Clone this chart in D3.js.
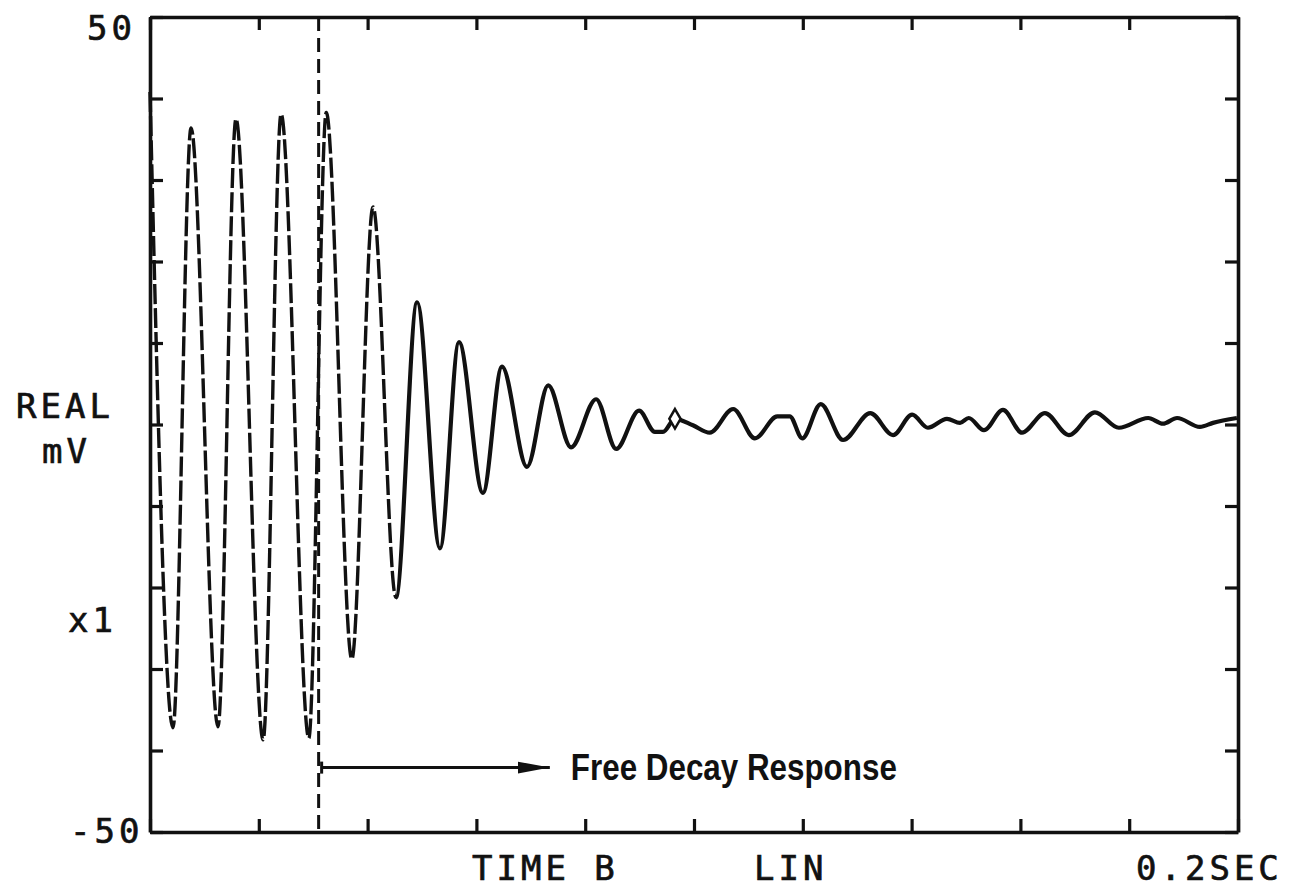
<!DOCTYPE html>
<html>
<head>
<meta charset="utf-8">
<script src="https://cdn.jsdelivr.net/npm/d3@7"></script>
<style>
  html, body { margin: 0; padding: 0; background: #fff; }
  svg { display: block; }
  .plotter { font-family: "DejaVu Sans Mono", monospace; font-size: 34px; letter-spacing: 4px; fill: #111; stroke: #111; stroke-width: 0.7px; }
  .note { font-family: "Liberation Sans", Arial, sans-serif; font-weight: bold; font-size: 37px; fill: #111; }
</style>
</head>
<body>
<svg id="chart"></svg>
<script>
// forced part of the record (plotted broken in the original)
var forcedTime = [0, 0.00423, 0.00754, 0.0125, 0.0158, 0.0208, 0.0241, 0.0292, 0.0324, 0.0371, 0.0410];
var forcedMv = [40.8, -37.2, 36.4, -37.1, 37.5, -38.7, 38.1, -38.5, 38.3, -28.8, 26.7];

// free decay part
var decayTime = [0.0452, 0.0491, 0.0533, 0.0568, 0.0612, 0.0647, 0.0693, 0.0732, 0.0774, 0.0820,
  0.0857, 0.0899, 0.0928, 0.0943, 0.0965, 0.0998, 0.1029, 0.1072, 0.1112, 0.1153,
  0.1176, 0.1199, 0.1233, 0.1274, 0.1324, 0.1366, 0.1401, 0.1430, 0.1465, 0.1489,
  0.1505, 0.1533, 0.1568, 0.1603, 0.1645, 0.1689, 0.1737, 0.1781, 0.1835, 0.1862,
  0.1888, 0.1930, 0.1954, 0.1998];
var decayMv = [-21.2, 15.0, -15.2, 10.1, -8.4, 7.1, -5.2, 4.8, -2.8, 3.1,
  -3.0, 1.7, -0.9, -0.9, 0.7, -0.1, -1.0, 1.9, -1.7, 1.0,
  1.0, -1.7, 2.5, -1.9, 1.4, -1.3, 1.2, -0.4, 0.7, 0.2,
  0.8, -0.7, 1.8, -1.0, 1.4, -1.3, 1.5, -0.4, 0.8, 0.1,
  0.8, -0.3, 0.2, 0.8];

var markerTime = [0.0965];
var markerMv = [0.7];

var yRange = [-50, 50];
var yTickLabels = ["-50", "50"];
var xTicks = [0, 0.02, 0.04, 0.06, 0.08, 0.1, 0.12, 0.14, 0.16, 0.18, 0.2];
var yTicks = [-50, -40, -30, -20, -10, 0, 10, 20, 30, 40, 50];
var bottomLabels = ["TIME B", "LIN", "0.2SEC"];
var sideLabels = ["REAL", "mV", "x1"];

var dividerTime = 0.031;
var brokenUntil = 0.0452;
var arrowEndTime = 0.0735;
var arrowMv = -42.1;
var noteText = "Free Decay Response";

var margin = { top: 17, right: 57, bottom: 61, left: 150 };
var totalW = 1295, totalH = 893;
var width = totalW - margin.left - margin.right;
var height = totalH - margin.top - margin.bottom;

var svg = d3.select("#chart").attr("width", totalW).attr("height", totalH);
var defs = svg.append("defs");
var g = svg.append("g").attr("transform", "translate(" + margin.left + "," + margin.top + ")");

var x = d3.scaleLinear().domain([0, 0.2]).range([0, width]);
var y = d3.scaleLinear().domain(yRange).range([height, 0]);

// frame with inward ticks on all four sides
var tickLen = -13;
var axes = [
  { ax: d3.axisBottom(x).tickValues(xTicks), tr: "translate(0," + height + ")" },
  { ax: d3.axisTop(x).tickValues(xTicks), tr: "translate(0,0)" },
  { ax: d3.axisLeft(y).tickValues(yTicks), tr: "translate(0,0)" },
  { ax: d3.axisRight(y).tickValues(yTicks), tr: "translate(" + width + ",0)" }
];
axes.forEach(function(a) {
  var sel = g.append("g").attr("transform", a.tr)
    .call(a.ax.tickSizeInner(tickLen).tickSizeOuter(0).tickFormat(""));
  sel.select(".domain").attr("stroke", "#111").attr("stroke-width", 3.6);
  sel.selectAll(".tick line").attr("stroke", "#111").attr("stroke-width", 3.2);
});

var line = d3.line()
  .x(function(d) { return x(d.t); })
  .y(function(d) { return y(d.v); })
  .curve(d3.curveMonotoneX);

var trace = forcedTime.map(function(t, i) { return { t: t, v: forcedMv[i] }; })
  .concat(decayTime.map(function(t, i) { return { t: t, v: decayMv[i] }; }));

// one curve, split by clip: broken strokes on the steep start, solid after
defs.append("clipPath").attr("id", "clipBroken").append("rect")
  .attr("x", -10).attr("y", -20).attr("width", x(brokenUntil) + 10).attr("height", height + 40);
defs.append("clipPath").attr("id", "clipSolid").append("rect")
  .attr("x", x(brokenUntil)).attr("y", -20).attr("width", width - x(brokenUntil)).attr("height", height + 40);

g.append("path").datum(trace)
  .attr("d", line)
  .attr("clip-path", "url(#clipBroken)")
  .attr("fill", "none")
  .attr("stroke", "#111")
  .attr("stroke-width", 3.4)
  .attr("stroke-dasharray", "20 4");

g.append("path").datum(trace)
  .attr("d", line)
  .attr("clip-path", "url(#clipSolid)")
  .attr("fill", "none")
  .attr("stroke", "#111")
  .attr("stroke-width", 4.2)
  .attr("stroke-linejoin", "round");

// small diamond marker on the trace
g.selectAll("path.marker").data(markerTime).enter().append("path")
  .attr("class", "marker")
  .attr("d", d3.symbol().type(d3.symbolDiamond).size(110))
  .attr("transform", function(d, i) { return "translate(" + x(d) + "," + y(markerMv[i]) + ")"; })
  .attr("fill", "#fff")
  .attr("stroke", "#111")
  .attr("stroke-width", 2.5);

// dashed divider between forced and free response
g.append("line")
  .attr("x1", x(dividerTime)).attr("x2", x(dividerTime))
  .attr("y1", y(yRange[1])).attr("y2", y(yRange[0]))
  .attr("stroke", "#111")
  .attr("stroke-width", 3)
  .attr("stroke-dasharray", "14 7");

// arrow + note
defs.append("marker")
  .attr("id", "head")
  .attr("viewBox", "0 0 32 13")
  .attr("refX", 32).attr("refY", 6.5)
  .attr("markerWidth", 32).attr("markerHeight", 13)
  .attr("markerUnits", "userSpaceOnUse")
  .attr("orient", "auto")
  .append("path").attr("d", "M0,0.5 L32,6.5 L0,12.5 Z").attr("fill", "#111");

g.append("line")
  .attr("x1", x(dividerTime) + 3).attr("x2", x(arrowEndTime))
  .attr("y1", y(arrowMv)).attr("y2", y(arrowMv))
  .attr("stroke", "#111")
  .attr("stroke-width", 3)
  .attr("marker-end", "url(#head)");

g.append("line")
  .attr("x1", x(dividerTime) + 3).attr("x2", x(dividerTime) + 3)
  .attr("y1", y(arrowMv) - 6).attr("y2", y(arrowMv) + 6)
  .attr("stroke", "#111")
  .attr("stroke-width", 3);

g.append("text")
  .attr("class", "note")
  .attr("x", x(arrowEndTime) + 21)
  .attr("y", y(arrowMv) + 12)
  .attr("textLength", 326)
  .attr("lengthAdjust", "spacingAndGlyphs")
  .text(noteText);

// plotter-style labels
svg.append("text").attr("class", "plotter").attr("x", 87).attr("y", y(yRange[1]) + margin.top + 23).text(yTickLabels[1]);
svg.append("text").attr("class", "plotter").attr("x", 70).attr("y", y(yRange[0]) + margin.top + 11).text(yTickLabels[0]);

var sidePos = [[16, 418], [42, 463], [68, 632]];
sideLabels.forEach(function(s, i) {
  svg.append("text").attr("class", "plotter").attr("x", sidePos[i][0]).attr("y", sidePos[i][1]).text(s);
});

var bottomPos = [472, 754, 1136];
bottomLabels.forEach(function(s, i) {
  svg.append("text").attr("class", "plotter").attr("x", bottomPos[i]).attr("y", 880).text(s);
});
</script>
</body>
</html>
